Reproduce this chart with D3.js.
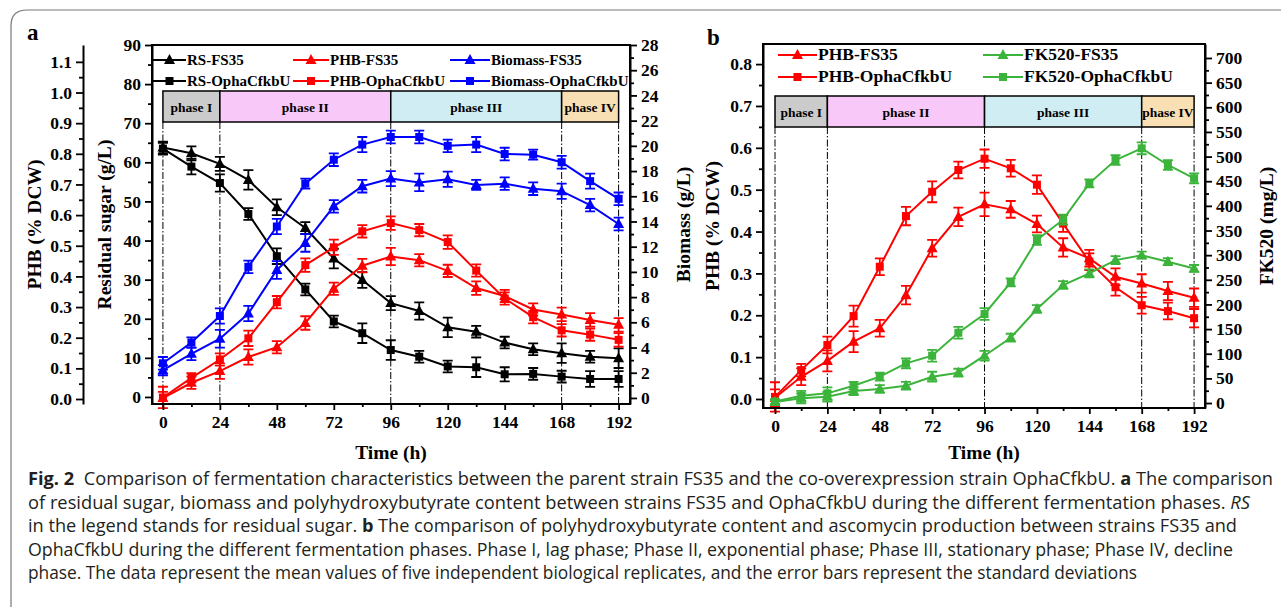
<!DOCTYPE html>
<html>
<head>
<meta charset="utf-8">
<script src="https://cdn.jsdelivr.net/npm/d3@7"></script>
<style>
  body { margin: 0; background: #fff; }
  text { font-family: "Liberation Serif", "Times New Roman", serif; font-weight: bold; }
  .cap { font-family: "Open Sans", "Noto Sans", sans-serif; font-weight: normal; fill: #231f20; }
</style>
</head>
<body>
<svg id="fig" width="1281" height="607"></svg>
<script>
// sampling times (h)
var hours = [0, 12, 24, 36, 48, 60, 72, 84, 96, 108, 120, 132, 144, 156, 168, 180, 192];

// residual sugar (g/L)
var rsFS35 = [63.8, 62.3, 59.6, 55.5, 48.5, 43.2, 35.4, 29.9, 24.0, 22.0, 17.8, 16.7, 13.9, 12.2, 11.2, 10.3, 9.9];
var rsFS35Err = [1.5, 1.8, 1.8, 2.5, 2.0, 1.5, 2.5, 2.0, 1.8, 2.2, 2.5, 1.5, 1.5, 1.5, 2.5, 1.5, 2.5];
var rsOpha = [63.5, 58.9, 54.7, 46.8, 36.0, 27.5, 19.3, 16.3, 12.0, 10.3, 7.8, 7.6, 5.8, 5.9, 5.2, 4.6, 4.6];
var rsOphaErr = [1.5, 2.0, 2.2, 1.5, 2.0, 1.5, 1.5, 2.5, 2.5, 1.5, 1.5, 2.5, 1.8, 1.5, 1.5, 2.0, 2.0];

// biomass (g/L)
var bioFS35 = [2.2, 3.5, 4.7, 6.7, 10.15, 12.3, 15.2, 16.8, 17.4, 17.1, 17.35, 16.9, 17.0, 16.6, 16.4, 15.3, 13.8];
var bioFS35Err = [0.4, 0.5, 0.7, 0.6, 0.7, 0.7, 0.5, 0.5, 0.6, 0.7, 0.6, 0.4, 0.5, 0.5, 0.6, 0.5, 0.5];
var bioOpha = [2.75, 4.4, 6.5, 10.4, 13.6, 17.0, 18.9, 20.1, 20.7, 20.7, 20.0, 20.1, 19.35, 19.3, 18.7, 17.2, 15.8];
var bioOphaErr = [0.5, 0.4, 0.6, 0.5, 0.6, 0.4, 0.5, 0.6, 0.5, 0.5, 0.5, 0.6, 0.5, 0.4, 0.5, 0.6, 0.5];

// PHB (% DCW)
var phbFS35 = [0.003, 0.053, 0.091, 0.137, 0.169, 0.248, 0.36, 0.435, 0.465, 0.453, 0.418, 0.362, 0.336, 0.292, 0.276, 0.258, 0.242];
var phbFS35Err = [0.02, 0.02, 0.025, 0.025, 0.02, 0.022, 0.02, 0.022, 0.028, 0.02, 0.02, 0.022, 0.02, 0.02, 0.022, 0.022, 0.022];
var phbOpha = [0.005, 0.069, 0.129, 0.198, 0.316, 0.437, 0.495, 0.547, 0.574, 0.551, 0.512, 0.419, 0.328, 0.267, 0.224, 0.21, 0.193];
var phbOphaErr = [0.035, 0.015, 0.02, 0.025, 0.02, 0.022, 0.025, 0.02, 0.022, 0.02, 0.022, 0.02, 0.02, 0.02, 0.02, 0.02, 0.022];

// FK520 (mg/L)
var fkFS35 = [2, 9.5, 12.8, 24.3, 28.4, 35, 53.4, 61.5, 96, 132.5, 190.7, 239.4, 263, 290, 300, 286.7, 273];
var fkFS35Err = [4, 10, 10, 8, 8, 8, 10, 8, 10, 8, 8, 8, 8, 8, 7, 7, 7];
var fkOpha = [3, 14.8, 19.6, 35, 53.4, 80.5, 96, 142.6, 180.6, 244.9, 330.7, 372, 445.7, 493, 516.7, 482.9, 455.9];
var fkOphaErr = [5, 10, 12, 8, 8, 10, 12, 12, 12, 8, 10, 10, 8, 10, 12, 10, 10];

// fermentation phases
var phaseNames = ["phase I", "phase II", "phase III", "phase IV"];
var phaseBounds = [0, 24, 96, 168, 192];
var phaseColors = ["#cbcbcb", "#f8c9f8", "#cfedf2", "#f8dfb4"];

var caption = [
  [["Fig. 2", "b"], ["  Comparison of fermentation characteristics between the parent strain FS35 and the co-overexpression strain OphaCfkbU. ", ""], ["a", "b"], [" The comparison", ""]],
  [["of residual sugar, biomass and polyhydroxybutyrate content between strains FS35 and OphaCfkbU during the different fermentation phases. ", ""], ["RS", "i"]],
  [["in the legend stands for residual sugar. ", ""], ["b", "b"], [" The comparison of polyhydroxybutyrate content and ascomycin production between strains FS35 and", ""]],
  [["OphaCfkbU during the different fermentation phases. Phase I, lag phase; Phase II, exponential phase; Phase III, stationary phase; Phase IV, decline", ""]],
  [["phase. The data represent the mean values of five independent biological replicates, and the error bars represent the standard deviations", ""]]
];
var captionEnds = [1273, 1250, 1237, 1233, 1137];

var RED = "#ff0000", BLUE = "#0000ff", GREEN = "#3cb43c", BLACK = "#000";

var svg = d3.select("#fig");
svg.append("rect").attr("width", 1281).attr("height", 607).attr("fill", "#fff");
svg.append("path").attr("d", "M11,607 V26 Q11,10 27,10 H1281")
  .attr("fill", "none").attr("stroke", "#777").attr("stroke-width", 1.2);

function marker(g, type, cx, cy, color) {
  if (type === "tri") {
    g.append("path").attr("d", "M" + cx + "," + (cy - 6) + " L" + (cx + 5.5) + "," + (cy + 4) + " L" + (cx - 5.5) + "," + (cy + 4) + "Z")
      .attr("fill", color);
  } else {
    g.append("rect").attr("x", cx - 4).attr("y", cy - 4).attr("width", 8).attr("height", 8).attr("fill", color);
  }
}

function styleAxis(g, size) {
  g.attr("font-size", size).attr("font-family", null);
  g.selectAll("path.domain").attr("stroke-width", 2);
  g.selectAll(".tick line").attr("stroke-width", 1.8);
  g.selectAll(".tick text").attr("fill", "#000");
}

function yAxis(g, scale, side, x, major, minor, fmt, size) {
  var mk = side === "left" ? d3.axisLeft : d3.axisRight;
  var a = g.append("g").attr("transform", "translate(" + x + ",0)")
    .call(mk(scale).tickValues(major).tickFormat(fmt).tickSize(7).tickSizeOuter(0).tickPadding(4));
  styleAxis(a, size);
  var m = g.append("g").attr("transform", "translate(" + x + ",0)")
    .call(mk(scale).tickValues(minor).tickFormat("").tickSize(4).tickSizeOuter(0));
  m.select("path.domain").remove();
  m.selectAll(".tick line").attr("stroke-width", 1.8);
}

function title(g, txt, cx, cy, rot, size) {
  g.append("text").attr("transform", "translate(" + cx + "," + cy + ")" + (rot ? " rotate(-90)" : ""))
    .attr("text-anchor", "middle").attr("dominant-baseline", "central")
    .attr("font-size", size).text(txt);
}

function drawPanel(p) {
  var g = svg.append("g");
  var x = d3.scaleLinear().domain(p.xDomain).range([p.left, p.right]);

  // phase boxes
  phaseNames.forEach(function(name, i) {
    var x0 = x(phaseBounds[i]), x1 = x(phaseBounds[i + 1]);
    g.append("rect").attr("x", x0).attr("y", p.boxTop).attr("width", x1 - x0).attr("height", p.boxBottom - p.boxTop)
      .attr("fill", phaseColors[i]).attr("stroke", "#000").attr("stroke-width", 1.5);
    g.append("text").attr("x", (x0 + x1) / 2).attr("y", (p.boxTop + p.boxBottom) / 2 + 5)
      .attr("text-anchor", "middle").attr("font-size", 13.5).text(name);
  });
  phaseBounds.forEach(function(b) {
    g.append("line").attr("x1", x(b)).attr("x2", x(b)).attr("y1", p.boxBottom).attr("y2", p.bottom)
      .attr("stroke", "#000").attr("stroke-width", 1).attr("stroke-dasharray", "7,2,1.5,2");
  });

  // series
  var line = d3.line();
  p.series.forEach(function(s) {
    var y = s.scale;
    var pts = hours.map(function(h, i) { return [x(h), y(s.values[i])]; });
    var sg = g.append("g");
    sg.append("path").attr("d", line(pts)).attr("fill", "none").attr("stroke", s.color).attr("stroke-width", 2);
    hours.forEach(function(h, i) {
      var cx = x(h), lo = y(s.values[i] - s.err[i]), hi = y(s.values[i] + s.err[i]);
      sg.append("path").attr("d", "M" + cx + "," + lo + "V" + hi + "M" + (cx - 5) + "," + lo + "H" + (cx + 5) + "M" + (cx - 5) + "," + hi + "H" + (cx + 5))
        .attr("stroke", s.color).attr("stroke-width", 1.8).attr("fill", "none");
      marker(sg, s.marker, cx, pts[i][1], s.color);
    });
  });

  // frame
  g.append("rect").attr("x", p.left).attr("y", p.top).attr("width", p.right - p.left).attr("height", p.bottom - p.top)
    .attr("fill", "none").attr("stroke", "#000").attr("stroke-width", 2);

  // x axis
  var xa = g.append("g").attr("transform", "translate(0," + p.bottom + ")")
    .call(d3.axisBottom(x).tickValues(d3.range(0, 193, 24)).tickSize(6).tickSizeOuter(0).tickPadding(6));
  styleAxis(xa, p.tickSize);
  xa.select("path.domain").remove();
  var xm = g.append("g").attr("transform", "translate(0," + p.bottom + ")")
    .call(d3.axisBottom(x).tickValues(d3.range(12, 193, 24)).tickFormat("").tickSize(3).tickSizeOuter(0));
  xm.select("path.domain").remove();
  xm.selectAll(".tick line").attr("stroke-width", 1.8);

  p.axes.forEach(function(a) {
    yAxis(g, a.scale, a.side, a.x, a.major, a.minor, a.fmt, p.tickSize);
    title(g, a.title, a.titleX, (p.top + p.bottom) / 2, true, p.titleSize);
  });
  title(g, "Time (h)", (p.left + p.right) / 2, p.timeY, false, p.titleSize);

  // legend
  p.legend.forEach(function(l) {
    var s = l.series;
    g.append("line").attr("x1", l.x1).attr("x2", l.x2).attr("y1", l.y).attr("y2", l.y)
      .attr("stroke", s.color).attr("stroke-width", 2);
    marker(g, s.marker, (l.x1 + l.x2) / 2, l.y, s.color);
    g.append("text").attr("x", l.x2 + 1).attr("y", l.y + 5).attr("font-size", p.legendSize).text(s.name);
  });

  g.append("text").attr("x", p.labelX).attr("y", p.labelY).attr("font-size", 23).text(p.label);
}

// panel a
var aTop = 45, aBottom = 404;
var yRS = d3.scaleLinear().domain([-1.8, 90]).range([aBottom, aTop]);
var yBio = d3.scaleLinear().domain([-0.48, 28]).range([aBottom, aTop]);
var yPhbA = d3.scaleLinear().domain([-0.0163, 1.155]).range([aBottom, aTop]);

var sRS1 = { name: "RS-FS35", values: rsFS35, err: rsFS35Err, color: BLACK, marker: "tri", scale: yRS };
var sRS2 = { name: "RS-OphaCfkbU", values: rsOpha, err: rsOphaErr, color: BLACK, marker: "sq", scale: yRS };
var sPA1 = { name: "PHB-FS35", values: phbFS35, err: phbFS35Err, color: RED, marker: "tri", scale: yPhbA };
var sPA2 = { name: "PHB-OphaCfkbU", values: phbOpha, err: phbOphaErr, color: RED, marker: "sq", scale: yPhbA };
var sB1 = { name: "Biomass-FS35", values: bioFS35, err: bioFS35Err, color: BLUE, marker: "tri", scale: yBio };
var sB2 = { name: "Biomass-OphaCfkbU", values: bioOpha, err: bioOphaErr, color: BLUE, marker: "sq", scale: yBio };

drawPanel({
  left: 152, right: 630, top: aTop, bottom: aBottom, xDomain: [-4.6, 196.8],
  boxTop: 91, boxBottom: 122, tickSize: 17.5, titleSize: 19.5, legendSize: 15, timeY: 452,
  label: "a", labelX: 27, labelY: 40,
  series: [sRS1, sRS2, sPA1, sPA2, sB1, sB2],
  axes: [
    { scale: yPhbA, side: "left", x: 83, major: d3.range(0, 11.5).map(function(d) { return d / 10; }),
      minor: d3.range(0, 11).map(function(d) { return d / 10 + 0.05; }), fmt: d3.format(".1f"), title: "PHB (% DCW)", titleX: 34 },
    { scale: yRS, side: "left", x: 152, major: d3.range(0, 91, 10), minor: d3.range(5, 90, 10), fmt: d3.format("d"),
      title: "Residual sugar (g/L)", titleX: 104 },
    { scale: yBio, side: "right", x: 630, major: d3.range(0, 29, 2), minor: d3.range(1, 28, 2), fmt: d3.format("d"),
      title: "Biomass (g/L)", titleX: 683 }
  ],
  legend: [
    { series: sRS1, x1: 153, x2: 186, y: 60 }, { series: sRS2, x1: 153, x2: 186, y: 81 },
    { series: sPA1, x1: 293, x2: 329, y: 60 }, { series: sPA2, x1: 293, x2: 329, y: 81 },
    { series: sB1, x1: 450, x2: 490, y: 60 }, { series: sB2, x1: 450, x2: 490, y: 81 }
  ]
});

// panel b
var bTop = 44, bBottom = 408;
var yPhbB = d3.scaleLinear().domain([-0.0215, 0.848]).range([bBottom, bTop]);
var yFK = d3.scaleLinear().domain([-10.1, 728.4]).range([bBottom, bTop]);

var sPB1 = { name: "PHB-FS35", values: phbFS35, err: phbFS35Err, color: RED, marker: "tri", scale: yPhbB };
var sPB2 = { name: "PHB-OphaCfkbU", values: phbOpha, err: phbOphaErr, color: RED, marker: "sq", scale: yPhbB };
var sF1 = { name: "FK520-FS35", values: fkFS35, err: fkFS35Err, color: GREEN, marker: "tri", scale: yFK };
var sF2 = { name: "FK520-OphaCfkbU", values: fkOpha, err: fkOphaErr, color: GREEN, marker: "sq", scale: yFK };

drawPanel({
  left: 763, right: 1205, top: bTop, bottom: bBottom, xDomain: [-5.5, 197],
  boxTop: 96, boxBottom: 127, tickSize: 17.5, titleSize: 19.5, legendSize: 17.5, timeY: 452,
  label: "b", labelX: 707, labelY: 45,
  series: [sPB1, sPB2, sF1, sF2],
  axes: [
    { scale: yPhbB, side: "left", x: 763, major: d3.range(0, 8.5).map(function(d) { return d / 10; }),
      minor: d3.range(0, 8).map(function(d) { return d / 10 + 0.05; }), fmt: d3.format(".1f"), title: "PHB (% DCW)", titleX: 712 },
    { scale: yFK, side: "right", x: 1205, major: d3.range(0, 701, 50), minor: d3.range(25, 700, 50), fmt: d3.format("d"),
      title: "FK520 (mg/L)", titleX: 1266 }
  ],
  legend: [
    { series: sPB1, x1: 778, x2: 817, y: 55 }, { series: sPB2, x1: 778, x2: 817, y: 77 },
    { series: sF1, x1: 983, x2: 1023, y: 55 }, { series: sF2, x1: 983, x2: 1023, y: 77 }
  ]
});

// caption
caption.forEach(function(parts, i) {
  var t = svg.append("text").attr("class", "cap").attr("x", 28).attr("y", 485 + i * 23.6)
    .attr("font-size", 18).attr("textLength", captionEnds[i] - 28).attr("lengthAdjust", "spacingAndGlyphs")
    .attr("xml:space", "preserve").style("white-space", "pre");
  parts.forEach(function(p) {
    var ts = t.append("tspan").text(p[0]);
    if (p[1] === "b") ts.attr("font-weight", "bold");
    if (p[1] === "i") ts.attr("font-style", "italic");
  });
});
</script>
</body>
</html>
